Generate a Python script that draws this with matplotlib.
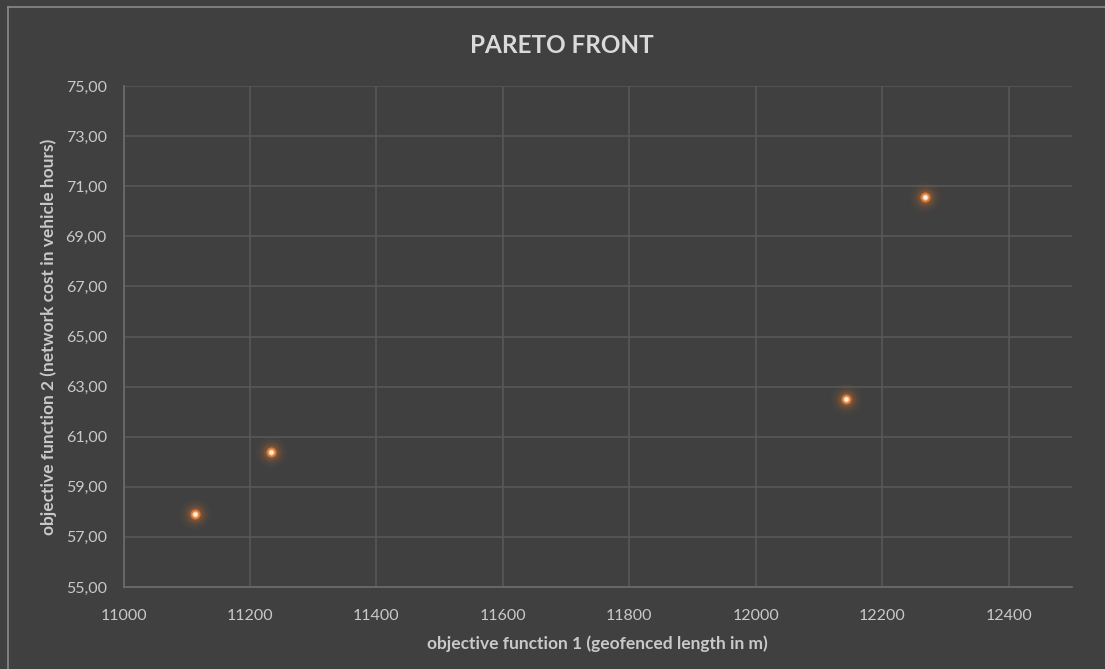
import matplotlib
matplotlib.use("Agg")
import matplotlib.pyplot as plt
from matplotlib.lines import Line2D

# Pareto front solutions
geofenced_length_m = [11113, 11233, 12142, 12267]
network_cost_vh = [57.91, 60.40, 62.49, 70.58]

x_ticks = [11000, 11200, 11400, 11600, 11800, 12000, 12200, 12400]
y_ticks = [55, 57, 59, 61, 63, 65, 67, 69, 71, 73, 75]

title = "PARETO FRONT"
x_label = "objective function 1 (geofenced length in m)"
y_label = "objective function 2 (network cost in vehicle hours)"

BG = "#404040"
GRID = "#575757"
AXIS = "#6a6a6a"
TEXT = "#c9c9c9"
ORANGE = "#ED7D31"

plt.rcParams["font.family"] = ["Lato", "DejaVu Sans"]

fig = plt.figure(figsize=(11.05, 6.69), dpi=100, facecolor=BG)
ax = fig.add_axes([0.1118, 0.1226, 0.8582, 0.7488], facecolor=BG)

ax.set_xlim(11000, 12500)
ax.set_ylim(55, 75)
ax.set_xticks(x_ticks)
ax.set_yticks(y_ticks)
ax.set_xticklabels([str(v) for v in x_ticks])
ax.set_yticklabels([f"{v:.2f}".replace(".", ",") for v in y_ticks])

ax.grid(True, color=GRID, linewidth=1.2)
ax.set_axisbelow(True)
for side in ("top", "right"):
    ax.spines[side].set_visible(False)
for side in ("left", "bottom"):
    ax.spines[side].set_color(AXIS)
    ax.spines[side].set_linewidth(1.3)
ax.tick_params(length=0, colors=TEXT, labelsize=11.5)
ax.tick_params(axis="x", pad=16)
ax.tick_params(axis="y", pad=12)

# glowing markers: soft halo, orange body, bright core
for size, alpha in [(500, 0.04), (320, 0.06), (200, 0.09), (120, 0.14)]:
    ax.scatter(geofenced_length_m, network_cost_vh, s=size, color=ORANGE,
               alpha=alpha, linewidths=0, zorder=3)
ax.scatter(geofenced_length_m, network_cost_vh, s=55, color=ORANGE,
           alpha=0.8, linewidths=0, zorder=4)
ax.scatter(geofenced_length_m, network_cost_vh, s=22, color="#f7b27f",
           linewidths=0, zorder=5)
ax.scatter(geofenced_length_m, network_cost_vh, s=9, color="#fff3e4",
           linewidths=0, zorder=6)

ax.set_xlabel(x_label, color=TEXT, fontsize=12.5, fontweight="bold", labelpad=9)
ax.set_ylabel(y_label, color=TEXT, fontsize=12.5, fontweight="bold", labelpad=6)
fig.text(0.5086, 0.932, title, color="#dadada", fontsize=17.5,
         fontweight="bold", ha="center", va="center")

# thin frame along the top and left of the chart area
fig.add_artist(Line2D([8 / 1105, 1.0], [1 - 7 / 669, 1 - 7 / 669],
                      transform=fig.transFigure, color="#8a8a8a", linewidth=1.2))
fig.add_artist(Line2D([8 / 1105, 8 / 1105], [0.0, 1 - 7 / 669],
                      transform=fig.transFigure, color="#8a8a8a", linewidth=1.2))

fig.savefig("out.png", dpi=100, facecolor=BG)
